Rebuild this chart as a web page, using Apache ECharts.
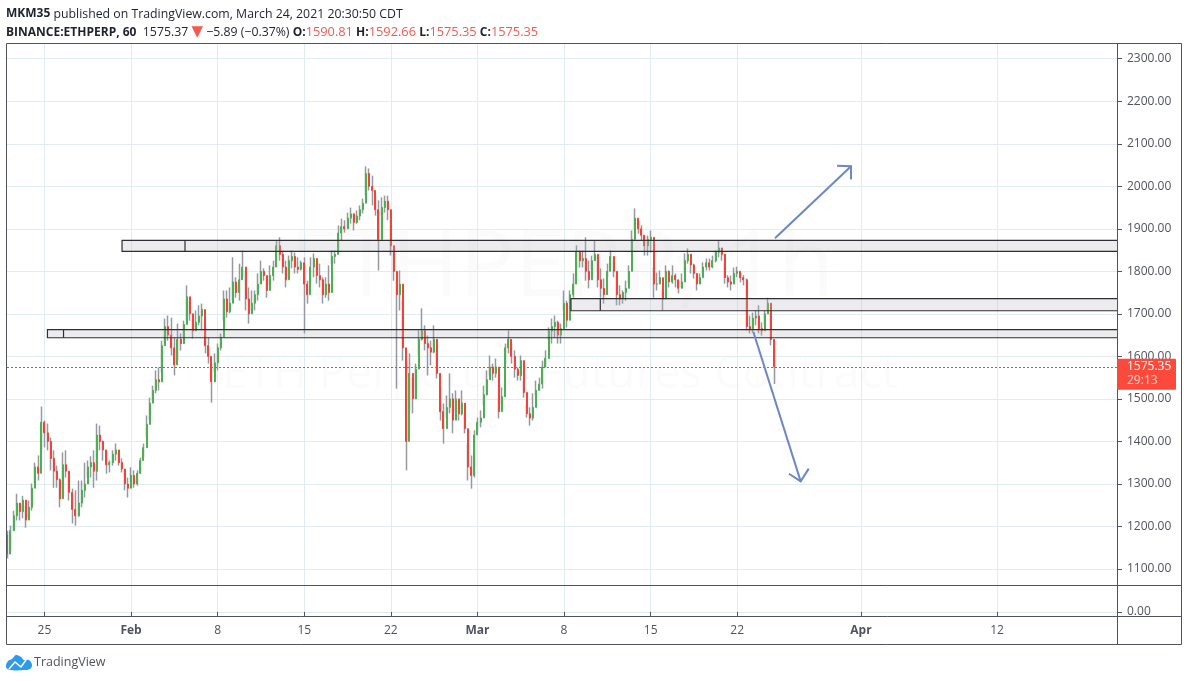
<!DOCTYPE html>
<html>
<head>
<meta charset="utf-8" />
<title>ETHPERP</title>
<script src="https://cdn.jsdelivr.net/npm/echarts@6/dist/echarts.min.js"></script>
<style>html,body{margin:0;background:#fff}</style>
</head>
<body>
<div id="main" style="width:1188px;height:681px;"></div>
<script>
// 6h bars, starting 22 Jan 2021
var barStart = Date.UTC(2021, 0, 22);
var opens = [1180,1135,1190,1225,1255,1235,1262,1215,1245,1290,
1340,1325,1445,1420,1400,1360,1330,1310,1265,1345,
1330,1280,1240,1225,1255,1285,1300,1340,1350,1330,
1415,1400,1380,1345,1350,1370,1380,1350,1335,1300,
1290,1320,1300,1325,1355,1385,1440,1490,1520,1545,
1540,1625,1670,1650,1620,1580,1640,1630,1675,1740,
1700,1660,1680,1695,1710,1625,1600,1540,1585,1620,
1645,1735,1705,1725,1775,1750,1780,1810,1735,1700,
1725,1745,1770,1800,1790,1755,1790,1810,1860,1840,
1810,1780,1825,1835,1810,1805,1820,1770,1745,1810,
1830,1790,1780,1745,1770,1750,1835,1840,1890,1905,
1900,1925,1935,1915,1930,1945,1960,2030,2000,1990,
1945,1875,1950,1965,1945,1860,1800,1745,1770,1620,
1400,1560,1500,1570,1640,1660,1630,1620,1610,1640,
1560,1470,1430,1480,1500,1450,1500,1465,1490,1430,
1340,1320,1415,1445,1455,1510,1545,1575,1560,1575,
1470,1505,1620,1640,1600,1570,1555,1590,1515,1465,
1455,1480,1520,1535,1575,1595,1660,1670,1680,1650,
1665,1725,1685,1745,1770,1845,1825,1830,1800,1780,
1825,1840,1780,1760,1745,1800,1835,1800,1745,1735,
1750,1760,1800,1875,1925,1900,1885,1860,1875,1880,
1770,1770,1785,1735,1800,1775,1790,1780,1760,1775,
1825,1840,1815,1795,1770,1785,1810,1820,1810,1825,
1845,1855,1840,1785,1775,1770,1795,1800,1785,1780,
1670,1665,1690,1695,1665,1660,1700,1725,1640];
var highs = [1190,1202,1237,1277,1254,1272,1249,1261,1301,1350,
1367,1482,1449,1442,1409,1379,1343,1313,1374,1379,
1317,1289,1285,1308,1308,1350,1355,1365,1379,1442,
1437,1402,1379,1355,1379,1395,1374,1360,1332,1315,
1339,1332,1332,1362,1395,1461,1503,1531,1567,1574,
1637,1689,1696,1691,1644,1677,1654,1684,1767,1731,
1691,1708,1720,1724,1668,1644,1583,1607,1630,1654,
1755,1755,1762,1833,1786,1818,1849,1802,1762,1755,
1755,1795,1825,1807,1786,1814,1825,1873,1880,1849,
1825,1837,1849,1844,1833,1825,1833,1778,1833,1842,
1818,1818,1786,1786,1814,1849,1849,1908,1924,1920,
1938,1950,1936,1943,1955,1971,2047,2042,2025,1978,
1967,1974,1978,1978,1920,1849,1778,1802,1731,1590,
1607,1550,1583,1661,1713,1673,1649,1637,1673,1614,
1527,1489,1508,1560,1513,1520,1496,1520,1466,1395,
1367,1426,1456,1473,1531,1567,1602,1583,1595,1503,
1527,1630,1661,1630,1614,1574,1602,1543,1489,1480,
1513,1543,1550,1590,1614,1668,1689,1696,1684,1677,
1755,1731,1755,1795,1861,1849,1849,1880,1825,1837,
1873,1837,1807,1783,1818,1849,1825,1790,1767,1755,
1778,1814,1896,1948,1920,1908,1884,1884,1896,1809,
1797,1802,1755,1814,1802,1814,1795,1778,1795,1842,
1854,1830,1818,1786,1795,1821,1830,1830,1837,1849,
1873,1854,1818,1791,1790,1809,1811,1797,1791,1783,
1696,1703,1708,1720,1680,1708,1738,1703,1637];
var lows = [1125,1143,1190,1214,1214,1219,1197,1221,1237,1301,
1308,1379,1386,1379,1332,1291,1291,1245,1291,1315,
1261,1207,1202,1223,1245,1268,1315,1315,1291,1308,
1379,1355,1324,1327,1343,1355,1343,1327,1285,1268,
1303,1291,1296,1324,1362,1409,1449,1496,1513,1520,
1562,1626,1637,1602,1555,1590,1614,1644,1684,1684,
1642,1661,1673,1661,1607,1583,1491,1562,1567,1614,
1684,1691,1701,1731,1738,1731,1786,1708,1677,1708,
1708,1731,1771,1778,1738,1767,1778,1825,1825,1795,
1762,1790,1807,1795,1795,1802,1654,1724,1771,1786,
1771,1762,1724,1738,1731,1818,1818,1849,1873,1891,
1903,1912,1896,1912,1920,1936,1978,1990,1955,1931,
1802,1931,1938,1920,1837,1778,1524,1708,1590,1332,
1473,1466,1501,1602,1637,1614,1555,1579,1607,1548,
1449,1395,1454,1466,1419,1468,1449,1461,1419,1308,
1289,1315,1421,1433,1484,1508,1555,1543,1550,1454,
1489,1583,1607,1583,1550,1543,1543,1503,1456,1437,
1449,1508,1520,1524,1574,1637,1630,1644,1630,1630,
1708,1668,1724,1738,1809,1809,1809,1778,1760,1802,
1825,1762,1738,1724,1786,1809,1786,1720,1720,1724,
1731,1771,1849,1896,1889,1873,1837,1837,1844,1738,
1755,1771,1708,1783,1762,1771,1762,1748,1762,1795,
1818,1795,1783,1755,1771,1795,1802,1802,1807,1821,
1833,1825,1771,1762,1755,1778,1786,1774,1767,1661,
1654,1656,1673,1654,1649,1673,1708,1626,1535];
var closes = [1135,1190,1225,1255,1235,1262,1215,1245,1290,1340,
1325,1445,1420,1400,1360,1330,1310,1265,1345,1330,
1280,1240,1225,1255,1285,1300,1340,1350,1330,1415,
1400,1380,1345,1350,1370,1380,1350,1335,1300,1290,
1320,1300,1325,1355,1385,1440,1490,1520,1545,1540,
1625,1670,1650,1620,1580,1640,1630,1675,1740,1700,
1660,1680,1695,1710,1625,1600,1540,1585,1620,1645,
1735,1705,1725,1775,1750,1780,1810,1735,1700,1725,
1745,1770,1800,1790,1755,1790,1810,1860,1840,1810,
1780,1825,1835,1810,1805,1820,1770,1745,1810,1830,
1790,1780,1745,1770,1750,1835,1840,1890,1905,1900,
1925,1935,1915,1930,1945,1960,2030,2000,1990,1945,
1875,1950,1965,1945,1860,1800,1745,1770,1620,1400,
1560,1500,1570,1640,1660,1630,1620,1610,1640,1560,
1470,1430,1480,1500,1450,1500,1465,1490,1430,1340,
1320,1415,1445,1455,1510,1545,1575,1560,1575,1470,
1505,1620,1640,1600,1570,1555,1590,1515,1465,1455,
1480,1520,1535,1575,1595,1660,1670,1680,1650,1665,
1725,1685,1745,1770,1845,1825,1830,1800,1780,1825,
1840,1780,1760,1745,1800,1835,1800,1745,1735,1750,
1760,1800,1875,1925,1900,1885,1860,1875,1880,1770,
1770,1785,1735,1800,1775,1790,1780,1760,1775,1825,
1840,1815,1795,1770,1785,1810,1820,1810,1825,1845,
1855,1840,1785,1775,1770,1795,1800,1785,1780,1670,
1665,1690,1695,1665,1660,1700,1725,1640,1575.35];

var priceTicks = [2300,2200,2100,2000,1900,1800,1700,1600,1500,1400,1300,1200,1100];
var lastPrice = 1575.35;

// date ticks of the x axis, value axis in ms (time axis breaks on customValues + formatter)
var dateTicks = [
  [Date.UTC(2021,0,25), '25'],
  [Date.UTC(2021,1,1), '{b|Feb}'],
  [Date.UTC(2021,1,8), '8'],
  [Date.UTC(2021,1,15), '15'],
  [Date.UTC(2021,1,22), '22'],
  [Date.UTC(2021,2,1), '{b|Mar}'],
  [Date.UTC(2021,2,8), '8'],
  [Date.UTC(2021,2,15), '15'],
  [Date.UTC(2021,2,22), '22'],
  [Date.UTC(2021,3,1), '{b|Apr}'],
  [Date.UTC(2021,3,12), '12']
];
var tickValues = dateTicks.map(function(d){ return d[0]; });
var tickNames = {};
dateTicks.forEach(function(d){ tickNames[d[0]] = d[1]; });

var day0 = Date.UTC(2021,0,25), dayMs = 864e5;
function onDay(n){ return day0 + n * dayMs; }
var timeMin = onDay(-3.03), timeMax = onDay(86.7);

// drawn price zones: start day, inner mark day, top, bottom (days counted from 25 Jan)
var zones = [
  [6.27, 11.36, 1872.7, 1846.8],
  [42.56, 44.93, 1735.6, 1707.3],
  [0.24, 1.54, 1662.7, 1643.8]
];
// drawn arrows: tail, tip, two barb ends, as [day, price]
var arrows = [
  [[59.05,1878],[65.2,2047],[64.07,2048],[65.2,2016]],
  [[57.3,1658],[61.13,1306],[60.18,1324],[61.78,1336]]
];

var ink = '#50535e', grid = '#e1ecf2', up = '#4caf50', down = '#f44336', font = 'Open Sans';

var wickData = closes.map(function(c,i){
  return [barStart + i * 6 * 36e5, opens[i], c, lows[i], highs[i]];
});
var bodyData = closes.map(function(c,i){
  return [barStart + i * 6 * 36e5, opens[i], c, Math.min(opens[i],c), Math.max(opens[i],c)];
});

var myChart = echarts.init(document.getElementById('main'));
var timeAxisBase = {
  type:'value', min:timeMin, max:timeMax, scale:true,
  axisLine:{show:false},
  splitLine:{show:true, lineStyle:{color:grid, width:1}}
};
var option = {
  animation:false,
  backgroundColor:'#fff',
  textStyle:{fontFamily:font},
  grid:[
    {left:7, top:44, width:1110, height:541},
    {left:7, top:586, width:1110, height:30}
  ],
  xAxis:[
    Object.assign({gridIndex:0}, timeAxisBase, {
      axisTick:{show:false, customValues:tickValues},
      axisLabel:{show:false, customValues:tickValues}
    }),
    Object.assign({gridIndex:1}, timeAxisBase, {
      axisTick:{show:true, length:4, customValues:tickValues, lineStyle:{color:ink}},
      axisLabel:{
        show:true, customValues:tickValues, color:ink, fontSize:12, fontFamily:font, margin:9,
        formatter:function(v){ return tickNames[v] || ''; },
        rich:{b:{fontWeight:'bold', color:ink, fontSize:12, fontFamily:font}}
      }
    })
  ],
  yAxis:[
    {
      gridIndex:0, type:'value', position:'right', min:1062.3, max:2334.6, scale:true,
      axisLine:{show:false},
      axisTick:{show:true, length:5, customValues:priceTicks, lineStyle:{color:ink}},
      axisLabel:{customValues:priceTicks, color:ink, fontSize:12, fontFamily:font, margin:10,
        formatter:function(v){ return v.toFixed(2); }},
      splitLine:{show:true, lineStyle:{color:grid, width:1}}
    },
    {
      gridIndex:1, type:'value', position:'right', min:-9.4, max:61,
      axisLine:{show:false},
      axisTick:{show:true, length:5, customValues:[0], lineStyle:{color:ink}},
      axisLabel:{customValues:[0], color:ink, fontSize:12, fontFamily:font, margin:10,
        formatter:function(v){ return v.toFixed(2); }},
      splitLine:{show:true, lineStyle:{color:grid, width:1}}
    }
  ],
  series:[
    {
      // grey wicks
      type:'candlestick', name:'wick', xAxisIndex:0, yAxisIndex:0, barWidth:0.5, z:2,
      encode:{x:0, y:[1,2,3,4]},
      itemStyle:{color:'#9598a1', color0:'#9598a1', borderColor:'#9598a1', borderColor0:'#9598a1', borderWidth:1.5},
      data:wickData,
      markLine:{
        silent:true, symbol:'none', animation:false, label:{show:false},
        lineStyle:{color:down, type:[2,2], width:1},
        data:[{yAxis:lastPrice}]
      }
    },
    {
      // coloured bodies on top of the wicks
      type:'candlestick', name:'body', xAxisIndex:0, yAxisIndex:0, barWidth:1.5, z:3,
      encode:{x:0, y:[1,2,3,4]},
      itemStyle:{color:up, color0:down, borderColor:up, borderColor0:down, borderWidth:1},
      data:bodyData
    },
    {
      type:'custom', name:'zones', xAxisIndex:0, yAxisIndex:0, z:4, clip:true, silent:true,
      encode:{x:[0,1], y:[2,3]},
      data:zones.map(function(z){ return [onDay(z[0]), onDay(z[1]), z[2], z[3]]; }),
      renderItem:function(params, api){
        var a = api.coord([api.value(0), api.value(2)]);
        var b = api.coord([api.value(1), api.value(3)]);
        var right = params.coordSys.x + params.coordSys.width + 4;
        return {type:'group', children:[
          {type:'rect', shape:{x:a[0], y:a[1], width:right-a[0], height:b[1]-a[1]},
            style:{fill:'rgba(178,178,190,0.25)', stroke:'#2f2f33', lineWidth:1.2}},
          {type:'line', shape:{x1:b[0], y1:a[1], x2:b[0], y2:b[1]},
            style:{stroke:'#2f2f33', lineWidth:1.2}}
        ]};
      }
    },
    {
      type:'custom', name:'arrows', xAxisIndex:0, yAxisIndex:0, z:5, clip:true, silent:true,
      encode:{x:[0,2,4,6], y:[1,3,5,7]},
      data:arrows.map(function(a){
        return [onDay(a[0][0]),a[0][1], onDay(a[1][0]),a[1][1], onDay(a[2][0]),a[2][1], onDay(a[3][0]),a[3][1]];
      }),
      renderItem:function(params, api){
        var tail = api.coord([api.value(0), api.value(1)]);
        var tip = api.coord([api.value(2), api.value(3)]);
        var b1 = api.coord([api.value(4), api.value(5)]);
        var b2 = api.coord([api.value(6), api.value(7)]);
        var s = {stroke:'#6c87c6', lineWidth:2, fill:null};
        return {type:'group', children:[
          {type:'line', shape:{x1:tail[0], y1:tail[1], x2:tip[0], y2:tip[1]}, style:s},
          {type:'polyline', shape:{points:[b1,tip,b2]}, style:s}
        ]};
      }
    }
  ],
  graphic:[
    // watermark
    {type:'text', z:0, x:562, y:270, style:{text:'ETHPERP, 1h', fill:'rgba(80,83,94,0.025)', font:'92px "Open Sans"', align:'center', verticalAlign:'middle'}},
    {type:'text', z:0, x:560, y:375, style:{text:'ETH Perpetual Futures Contract', fill:'rgba(80,83,94,0.025)', font:'46px "Open Sans"', align:'center', verticalAlign:'middle'}},
    // frame
    {type:'rect', z:20, shape:{x:6.5, y:43.5, width:1175, height:601}, style:{fill:null, stroke:ink, lineWidth:1}},
    {type:'line', z:20, shape:{x1:1117.5, y1:43.5, x2:1117.5, y2:644.5}, style:{stroke:ink, lineWidth:1}},
    {type:'line', z:20, shape:{x1:6.5, y1:585.5, x2:1181.5, y2:585.5}, style:{stroke:ink, lineWidth:1}},
    {type:'line', z:20, shape:{x1:6.5, y1:616.5, x2:1181.5, y2:616.5}, style:{stroke:ink, lineWidth:1}},
    // header
    {type:'text', z:20, x:6, y:8, style:{
      text:'{b|MKM35} published on TradingView.com, March 24, 2021 20:30:50 CDT',
      fill:'#1e222d', font:'12.3px "Open Sans"',
      rich:{b:{font:'bold 12px "Open Sans"', fill:'#1e222d'}}
    }},
    {type:'text', z:20, x:6, y:25, style:{
      text:'{b|BINANCE:ETHPERP, 60}  1575.37 {t|▼} −5.89 (−0.37%) {b|O:}{r|1590.81} {b|H:}{r|1592.66} {b|L:}{r|1575.35} {b|C:}{r|1575.35}',
      fill:'#1e222d', font:'12.3px "Open Sans"',
      rich:{
        b:{font:'bold 12px "Open Sans"', fill:'#1e222d'},
        r:{font:'12.8px "Open Sans"', fill:'#f55a50'},
        t:{font:'15px "DejaVu Sans"', fill:'#f55a50'}
      }
    }},
    // logo
    {type:'polygon', z:20, shape:{smooth:0.4, points:[[6,667],[8,661],[12,659],[16,655],[21,657],[24,660],[29,660],[32,665],[30,669],[24,670],[10,670]]}, style:{fill:'#2e9bea'}},
    {type:'polyline', z:21, shape:{points:[[9,669],[15,662],[21,667],[26,660]]}, style:{stroke:'#fff', lineWidth:1.5, fill:null}},
    {type:'text', z:20, x:34, y:656, style:{text:'TradingView', fill:'#50535e', font:'12.5px "Open Sans"'}}
  ]
};
myChart.setOption(option);

// last price tag sits on the axis at the price level
var tagY = myChart.convertToPixel({yAxisIndex:0}, lastPrice);
myChart.setOption({graphic:option.graphic.concat([
  {type:'rect', z:22, shape:{x:1117, y:tagY-8, width:59, height:31, r:1}, style:{fill:'#fb4a3c'}},
  {type:'text', z:23, x:1127, y:tagY-6, style:{text:lastPrice.toFixed(2), fill:'#fff', font:'12px "Open Sans"'}},
  {type:'text', z:23, x:1127, y:tagY+8, style:{text:'29:13', fill:'#ffd3cf', font:'12px "Open Sans"'}}
])});
</script>
</body>
</html>
